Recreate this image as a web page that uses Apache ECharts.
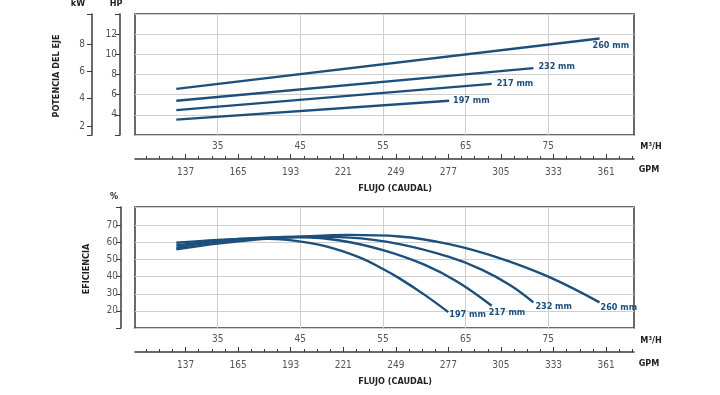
<!DOCTYPE html>
<html><head><meta charset="utf-8">
<script src="https://cdn.jsdelivr.net/npm/echarts@6/dist/echarts.min.js"></script>
<style>html,body{margin:0;padding:0;background:#fff}#c{width:720px;height:395px}</style>
</head><body><div id="c"></div>
<script>
// ---------- data ----------
const impellers = ['197 mm', '217 mm', '232 mm', '260 mm'];
// shaft power (HP) vs flow (m3/h)
const power197 = [[30, 3.53], [63.0, 5.4]];
const power217 = [[30, 4.47], [68.15, 7.07]];
const power232 = [[30, 5.4], [73.2, 8.63]];
const power260 = [[30, 6.57], [81.2, 11.57]];
// efficiency (%) vs flow (m3/h)
const eff197 = [[30, 59.8], [35, 61.5], [40, 62.2], [44, 61.2], [48, 57.8], [52, 51.5], [55, 44.5], [57, 39], [60, 29.5], [62.9, 19.3]];
const eff217 = [[30, 58.3], [35, 61], [40, 62.6], [45, 63], [50, 61], [55, 55.5], [60, 47], [64, 37], [68.15, 23]];
const eff232 = [[30, 57], [35, 60.3], [40, 62.4], [45, 63.4], [51, 62.8], [57, 59], [63, 51.5], [67, 44], [70.4, 35], [73.2, 25]];
const eff260 = [[30, 56], [35, 59.3], [40, 61.8], [45, 63.4], [51, 64.4], [57, 63.5], [63, 59], [69, 51], [75, 40], [81.2, 25]];
// axes / ticks
const flowRange = [25, 85.37];           // m3/h
const m3hToGpm = 4.403;
const flowTicks = [35, 45, 55, 65, 75];  // m3/h labels
const gpmLabels = [137, 165, 193, 221, 249, 277, 305, 333, 361];
const gpmMinor = [116, 123, 130, 144, 151, 158, 172, 179, 186, 200, 207, 214, 228, 235, 242, 256, 263, 270, 284, 291, 298, 312, 319, 326, 340, 347, 354, 368, 375];
const hpRange = [2, 14];
const hpTicks = [2, 4, 6, 8, 10, 12, 14];
const hpLabels = [4, 6, 8, 10, 12];
const kwRange = [1.34, 10.19];
const kwLabels = [2, 4, 6, 8];
const effRange = [10, 80.7];
const effTicks = [10, 20, 30, 40, 50, 60, 70, 80.7];
const effLabels = [20, 30, 40, 50, 60, 70];

// ---------- styling ----------
const FONT = "'Liberation Sans Narrow','DejaVu Sans Condensed','Arial Narrow',sans-serif";
const LINE = '#1d4f7c';
const AX = '#3a3a3a';
const GRIDC = '#cfcfcf';
const TICKTXT = '#555';
const gridBox = { show: true, borderColor: AX, borderWidth: 1.5, backgroundColor: 'rgba(0,0,0,0)' };
const tickLbl = { color: TICKTXT, fontFamily: FONT, fontSize: 10 };

const gpmRange = [flowRange[0] * m3hToGpm, flowRange[1] * m3hToGpm];

function flowAxes(gi) {
  return [
    { gridIndex: gi, type: 'value', min: flowRange[0], max: flowRange[1], position: 'bottom',
      axisLine: { show: false }, axisTick: { show: false, customValues: flowTicks },
      axisLabel: { show: false }, splitLine: { show: true, lineStyle: { color: GRIDC, width: 1 } } },
    { gridIndex: gi, type: 'value', min: gpmRange[0], max: gpmRange[1], position: 'bottom', offset: 24,
      axisLine: { show: true, lineStyle: { color: AX, width: 1.5 } },
      axisTick: { show: true, inside: true, length: 3, customValues: gpmMinor, lineStyle: { color: AX, width: 1 } },
      axisLabel: { show: false }, splitLine: { show: false } },
    { gridIndex: gi, type: 'value', min: gpmRange[0], max: gpmRange[1], position: 'bottom', offset: 24,
      axisLine: { show: false },
      axisTick: { show: true, inside: true, length: 5, customValues: gpmLabels, lineStyle: { color: AX, width: 1 } },
      axisLabel: Object.assign({ show: true, customValues: gpmLabels, margin: 8 }, tickLbl),
      splitLine: { show: false } },
    { gridIndex: gi, type: 'value', min: flowRange[0], max: flowRange[1], position: 'bottom', offset: 24,
      axisLine: { show: false }, axisTick: { show: false, customValues: flowTicks },
      axisLabel: Object.assign({ show: true, inside: true, customValues: flowTicks, margin: 8 }, tickLbl),
      splitLine: { show: false } }
  ];
}

function lineSeries(name, data, xi, yi, off, smooth) {
  return {
    type: 'line', name: name, data: data, xAxisIndex: xi, yAxisIndex: yi,
    showSymbol: false, symbol: 'none', smooth: smooth, silent: true,
    lineStyle: { color: LINE, width: 2.4 },
    endLabel: { show: true, formatter: '{a}', color: LINE, fontFamily: FONT, fontWeight: 'bold',
      fontSize: 9, offset: off, distance: 5 }
  };
}

const powerSets = [power197, power217, power232, power260];
const effSets = [eff197, eff217, eff232, eff260];
const powerOff = [[-1, 0], [0, 0], [0, -1], [-12, 7]];
const effOff = [[-4, 3], [-8, 7], [-3, 4], [-4, 5]];

const series = [];
powerSets.forEach((d, i) => series.push(lineSeries(impellers[i], d, 0, 0, powerOff[i], false)));
effSets.forEach((d, i) => series.push(lineSeries(impellers[i], d, 4, 2, effOff[i], 0.4)));

const titleStyle = (t, x, y, rot) => ({
  type: 'text', x: x, y: y, rotation: rot || 0,
  style: { text: t, fill: '#222', font: "bold 9px " + FONT, textAlign: 'center', textVerticalAlign: 'middle' }
});

const option = {
  animation: false,
  backgroundColor: '#fff',
  grid: [
    Object.assign({ left: 135, top: 14, width: 499, height: 121 }, gridBox),
    Object.assign({ left: 135, top: 207, width: 499, height: 121 }, gridBox)
  ],
  xAxis: flowAxes(0).concat(flowAxes(1)),
  yAxis: [
    { gridIndex: 0, type: 'value', min: hpRange[0], max: hpRange[1], position: 'left', offset: 15,
      axisLine: { show: true, lineStyle: { color: AX, width: 1.5 } },
      axisTick: { show: true, length: 5, customValues: hpTicks, lineStyle: { color: AX, width: 1 } },
      axisLabel: Object.assign({ customValues: hpLabels, margin: 3 }, tickLbl),
      splitLine: { show: true, lineStyle: { color: GRIDC, width: 1 } } },
    { gridIndex: 0, type: 'value', min: kwRange[0], max: kwRange[1], position: 'left', offset: 43,
      axisLine: { show: true, lineStyle: { color: AX, width: 1.5 } },
      axisTick: { show: true, length: 5, customValues: [kwRange[0]].concat(kwLabels, [kwRange[1]]), lineStyle: { color: AX, width: 1 } },
      axisLabel: Object.assign({ customValues: kwLabels, margin: 7 }, tickLbl),
      splitLine: { show: false } },
    { gridIndex: 1, type: 'value', min: effRange[0], max: effRange[1], position: 'left', offset: 14,
      axisLine: { show: true, lineStyle: { color: AX, width: 1.5 } },
      axisTick: { show: true, length: 5, customValues: effTicks, lineStyle: { color: AX, width: 1 } },
      axisLabel: Object.assign({ customValues: effLabels, margin: 3 }, tickLbl),
      splitLine: { show: true, lineStyle: { color: GRIDC, width: 1 } } }
  ],
  graphic: [
    titleStyle('kW', 78, 4),
    titleStyle('HP', 116, 4),
    titleStyle('POTENCIA DEL EJE', 57, 76, Math.PI / 2),
    titleStyle('M³/H', 651, 147),
    titleStyle('GPM', 649, 170),
    titleStyle('FLUJO (CAUDAL)', 395, 189),
    titleStyle('%', 114, 197),
    titleStyle('EFICIENCIA', 87, 269, Math.PI / 2),
    titleStyle('M³/H', 651, 341),
    titleStyle('GPM', 649, 364),
    titleStyle('FLUJO (CAUDAL)', 395, 382)
  ],
  series: series
};

const chart = echarts.init(document.getElementById('c'), null, { renderer: 'canvas' });
chart.setOption(option);
</script>
</body></html>
